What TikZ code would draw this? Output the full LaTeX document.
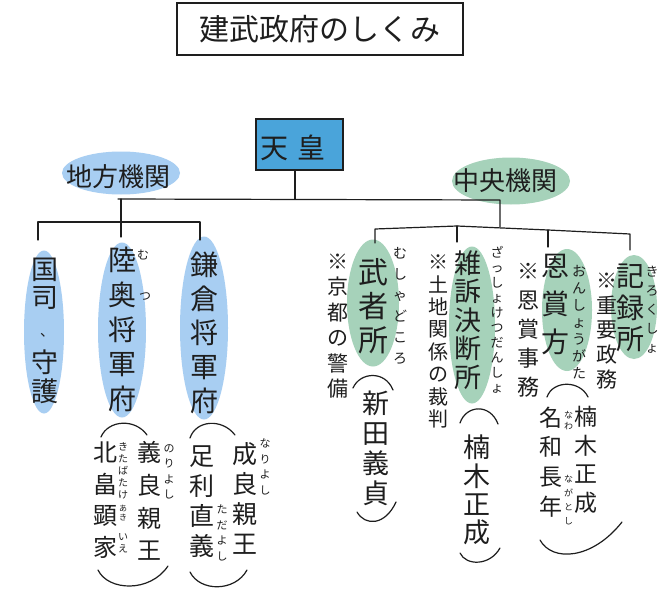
\documentclass[tikz,border=0pt]{standalone}
\usepackage{fontspec}
\setmainfont{Noto Sans CJK JP}
\usetikzlibrary{shapes.geometric}
\definecolor{ink}{RGB}{30,30,30}
\definecolor{lblue}{RGB}{168,206,242}
\definecolor{lgreen}{RGB}{166,210,186}
\definecolor{tennoblue}{RGB}{74,164,218}
\tikzset{
  vt/.style 2 args={font=\fontsize{#1}{#2}\selectfont, align=center, inner sep=0pt, text=ink},
  hz/.style={font=\fontsize{#1}{#1}\selectfont, inner sep=0pt, text=ink},
  blob/.style={ellipse, draw=none, inner sep=0pt},
  conn/.style={draw=ink, line width=1.2pt, line cap=round, line join=round},
  bracket/.style={draw=ink, line width=1.2pt, line cap=round},
}
\begin{document}
\begin{tikzpicture}[x=1pt,y=-1pt]
\useasboundingbox (0,0) rectangle (663,591);
\fill[white] (0,0) rectangle (663,591);

% title
\node[draw=ink, line width=1.2pt, minimum width=286pt, minimum height=52pt, inner sep=0pt, hz=30] (title) at (320,29) {建武政府のしくみ};

% emperor
\node[draw=ink, line width=1.1pt, fill=tennoblue, minimum width=87pt, minimum height=51pt, inner sep=0pt] (tenno) at (299.5,144.5) {};
\node[hz=28] (tennolabel) at (293,148) {天\hspace{9pt}皇};

% category blobs
\node[blob, fill=lblue, minimum width=118pt, minimum height=43pt] (chihoE) at (121,173) {};
\node[hz=26] (chiho) at (118,177) {地方機関};
\node[blob, fill=lgreen, minimum width=118pt, minimum height=47pt] (chuoE) at (511,181) {};
\node[hz=26] (chuo) at (505,181) {中央機関};

% lower blobs
\node[blob, fill=lblue, minimum width=40pt, minimum height=163pt] (kokushiE) at (44,332) {};
\node[blob, fill=lblue, minimum width=48pt, minimum height=175pt] (mutsuE) at (122,330) {};
\node[blob, fill=lblue, minimum width=48pt, minimum height=183pt] (kamaE) at (204,328) {};
\node[blob, fill=lgreen, minimum width=52pt, minimum height=127pt] (mushaE) at (373,303) {};
\node[blob, fill=lgreen, minimum width=46pt, minimum height=157pt] (zasshoE) at (472,325) {};
\node[blob, fill=lgreen, minimum width=50pt, minimum height=122pt] (onshoE) at (567,310) {};
\node[blob, fill=lgreen, minimum width=46pt, minimum height=104pt] (kirokuE) at (634,307) {};

% tree connectors
\coordinate (j0) at (295,199);
\coordinate (mL) at (118,199);
\coordinate (mR) at (500,200);
\coordinate (rJ) at (500,227);
\coordinate (lJ) at (121,199);
\coordinate (l2) at (121,237);
\draw[conn] (tenno.south -| j0) -- (j0);
\draw[conn] (mL) -- (mR) -- (rJ);
\draw[conn] (lJ) -- (l2);
\coordinate (sl1) at (38,222);
\coordinate (sl3) at (200,222);
\coordinate (tk1) at (38,240);
\coordinate (tk3) at (200,240);
\draw[conn] (tk1) -- (sl1) -- (sl3) -- (tk3);
\coordinate (sr1) at (375,229);
\coordinate (srm) at (457,226);
\coordinate (sr3) at (548,230);
\coordinate (sr4) at (630,234);
\coordinate (tr1) at (375,243);
\coordinate (tr2) at (457,242);
\coordinate (tr3) at (548,247);
\coordinate (tr4) at (630,250);
\draw[conn] (tr1) -- (sr1) -- (srm) -- (sr3) -- (sr4) -- (tr4);
\draw[conn] (srm) -- (tr2);
\draw[conn] (sr3) -- (tr3);

% left organs
\node[vt={27}{28}] (kokushi) at (45,284) {国\\司};
\node[hz=14, anchor=base west] (kokushiComma) at (40,336) {、};
\node[vt={27}{29.5}] (shugo) at (45,377) {守\\護};
\node[vt={28}{34.75}] (mutsu) at (122,329.5) {陸\\奥\\将\\軍\\府};
\node[hz=12] (mutsuR1) at (143,255) {む};
\node[hz=12] (mutsuR2) at (145,297) {つ};
\node[vt={28}{34}] (kama) at (204,333) {鎌\\倉\\将\\軍\\府};

% group 1
\draw[bracket] (101,437) .. controls (108,420) and (135,418) .. (147,435);
\draw[bracket] (98,570) .. controls (108,591) and (150,593) .. (168,566);
\node[vt={24}{31.7}] (kitabatake) at (105,500) {北\\畠\\顕\\家};
\node[vt={24}{32.7}] (norinaga) at (149,501) {義\\良\\親\\王};
\node[vt={11}{15.5}] (norinagaR) at (169,472) {の\\り\\よ\\し};
\node[vt={10}{12}] (kitaR) at (123,471) {き\\た\\ば\\た\\け};
\node[vt={8}{9}] (akiR) at (123,513) {あ\\き};
\node[vt={10}{12}] (ieR) at (123,543) {い\\え};

% group 2
\draw[bracket] (190,438) .. controls (196,420) and (222,418) .. (235,435);
\draw[bracket] (190,572) .. controls (200,592) and (235,592) .. (247,570);
\node[vt={25}{30}] (tadayoshi) at (202,502) {足\\利\\直\\義};
\node[vt={25}{30}] (nariyoshi) at (245,498) {成\\良\\親\\王};
\node[vt={11}{15.7}] (nariR) at (265,467) {な\\り\\よ\\し};
\node[vt={11}{15.7}] (tadaR) at (222,533) {た\\だ\\よ\\し};

% musha-dokoro
\node[vt={21}{25.5}] (kyoto) at (338,326) {※\\京\\都\\の\\警\\備};
\node[vt={30}{34}] (musha) at (373,306) {武\\者\\所};
\node[vt={14}{21}] (mushaR) at (400,306) {む\\し\\ゃ\\ど\\こ\\ろ};
\draw[bracket] (353,388) .. controls (360,372) and (385,370) .. (393,390);
\draw[bracket] (357,512) .. controls (365,526) and (385,526) .. (396,502);
\node[vt={27}{30}] (nitta) at (376,448) {新\\田\\義\\貞};

% zassho-ketsudansho
\node[vt={20}{22.4}] (tochi) at (438,341.5) {※\\土\\地\\関\\係\\の\\裁\\判};
\node[vt={27}{28.5}] (zassho) at (468,320) {雑\\訴\\決\\断\\所};
\node[vt={13}{15}] (zasshoR) at (497,320) {ざ\\っ\\し\\ょ\\け\\つ\\だ\\ん\\し\\ょ};
\draw[bracket] (460,423) .. controls (466,405) and (490,403) .. (498,424);
\draw[bracket] (460,553) .. controls (466,566) and (490,566) .. (500,548);
\node[vt={27}{28.3}] (kusunoki1) at (477,490) {楠\\木\\正\\成};

% onshogata
\node[vt={22}{29}] (onshoNote) at (528,330) {※\\恩\\賞\\事\\務};
\node[vt={28}{38}] (onsho) at (555,305) {恩\\賞\\方};
\node[vt={14}{17}] (onshoR) at (579,322) {お\\ん\\し\\ょ\\う\\が\\た};
\draw[bracket] (547,397) .. controls (553,380) and (580,380) .. (588,397);
\draw[bracket] (540,540) .. controls (552,562) and (592,560) .. (622,522);
\node[vt={23}{29.7}] (nawa) at (551,462) {名\\和\\長\\年};
\node[vt={23}{28.5}] (kusunoki2) at (586,460) {楠\\木\\正\\成};
\node[vt={9}{11}] (nawaR) at (568.5,421) {な\\わ};
\node[vt={9}{14}] (nagatoshiR) at (568.5,500) {な\\が\\と\\し};

% kirokusho
\node[vt={21}{24.7}] (juyo) at (607,331) {※\\重\\要\\政\\務};
\node[vt={28}{31.5}] (kiroku) at (630,308) {記\\録\\所};
\node[vt={13}{19}] (kirokuR) at (652,310) {き\\ろ\\く\\し\\ょ};
\end{tikzpicture}
\end{document}
